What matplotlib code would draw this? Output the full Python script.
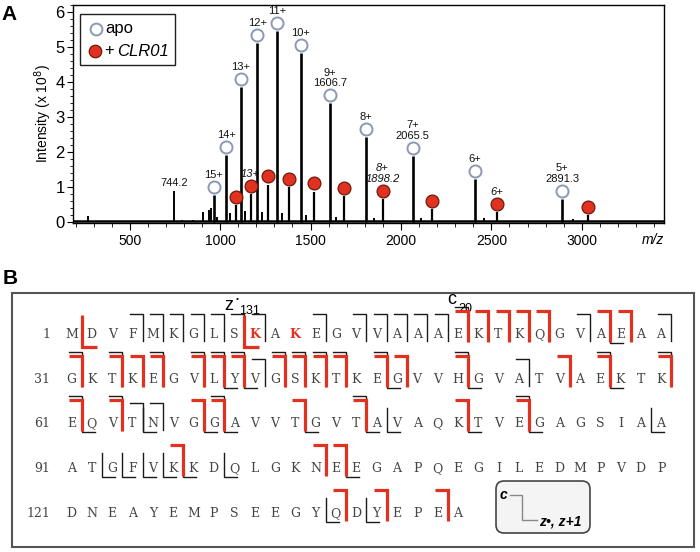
import matplotlib
matplotlib.use("Agg")
import matplotlib.pyplot as plt
from matplotlib.patches import Rectangle, FancyBboxPatch
from matplotlib.ticker import MultipleLocator

plt.rcParams['font.family'] = ['Liberation Sans', 'DejaVu Sans']

# ---------------- Panel A data ----------------
apo_charges = ['15+', '14+', '13+', '12+', '11+', '10+', '9+\n1606.7', '8+', '7+\n2065.5', '6+', '5+\n2891.3']
apo_mz = [964.4, 1033.3, 1112.6, 1205.3, 1314.8, 1446.1, 1606.7, 1807.4, 2065.5, 2409.6, 2891.3]
apo_int = [0.77, 1.90, 3.85, 5.12, 5.46, 4.83, 3.40, 2.42, 1.89, 1.24, 0.66]

bound_charges = ['', '13+', '', '', '', '', '8+\n1898.2', '', '6+', '']
bound_mz = [1085.1, 1168.5, 1265.8, 1380.8, 1518.8, 1687.4, 1898.2, 2169.2, 2530.6, 3036.5]
bound_int = [0.49, 0.79, 1.07, 1.00, 0.87, 0.73, 0.66, 0.37, 0.28, 0.20]

minor_mz = [270, 744.2, 790, 850, 905, 940, 952, 985, 1055, 1135, 1230, 1340, 1475, 1640,
            1850, 2110, 2460, 2950]
minor_int = [0.18, 0.88, 0.06, 0.07, 0.28, 0.35, 0.40, 0.15, 0.25, 0.30, 0.28, 0.25, 0.20, 0.15,
             0.12, 0.10, 0.10, 0.08]

# ---------------- Panel B data ----------------
sequence = ("MDVFMKGLSKAKEGVVAAAEKTKQGVAEAA"
            "GKTKEGVLYVGSKTKEGVVHGVATVAEKTK"
            "EQVTNVGGAVVTGVTAVAQKTVEGAGSIAA"
            "ATGFVKKDQLGKNEEGAPQEGILEDMPVDP"
            "DNEAYEMPSEEGYQDYEPEA")
row_starts = [1, 31, 61, 91, 121]
red_residues = [10, 12]
c_black = [4, 5, 6, 7, 8, 9, 10, 13, 15, 16, 17, 18, 19, 20, 26, 30, 31, 33, 35, 37, 38, 39, 40,
           41, 42, 43, 44, 46, 50, 53, 57, 60, 61, 63, 64, 65, 68, 75, 83]
c_red = [20, 21, 22, 23, 24, 27, 28, 31, 33, 34, 35, 37, 38, 39, 41, 42, 43, 44, 46, 47, 50, 55,
         57, 60, 61, 63, 67, 68, 72, 75, 80, 83, 96, 103, 104, 134, 136, 139]
z_black = [27, 38, 39, 46, 50, 57, 61, 64, 67, 68, 72, 75, 76, 80, 83, 89, 92, 93, 94, 95, 96,
           98, 104, 133, 135]
z_red = [1, 9]

RED = '#e0321f'
BLK = '#1a1a1a'

fig = plt.figure(figsize=(7.0, 5.52), dpi=100)

# ---------------- Panel A ----------------
W, H = 700.0, 552.0
axA = fig.add_axes([73 / W, 1 - 223 / H, 591 / W, 218 / H])
axA.set_xlim(186, 3455)
axA.set_ylim(-0.03, 6.2)

axA.axhline(0.03, color='black', lw=1.8, zorder=2)
axA.vlines(minor_mz, 0, minor_int, color='black', lw=1.4, zorder=2)
axA.vlines(apo_mz, 0, apo_int, color='black', lw=1.9, zorder=2)
axA.vlines(bound_mz, 0, bound_int, color='black', lw=1.6, zorder=2)

off = 0.23
axA.scatter(apo_mz, [v + off for v in apo_int], s=75, facecolor='white',
            edgecolor='#8b9ab3', linewidth=1.4, zorder=4)
axA.scatter(bound_mz, [v + off for v in bound_int], s=85, facecolor=RED,
            edgecolor='#6b1a10', linewidth=0.9, zorder=4)

for mz, h, lab in zip(apo_mz, apo_int, apo_charges):
    axA.annotate(lab, (mz, h + off), xytext=(0, 5), textcoords='offset points',
                 ha='center', va='bottom', fontsize=8, linespacing=1.05, color='#111')
for mz, h, lab in zip(bound_mz, bound_int, bound_charges):
    if lab:
        axA.annotate(lab, (mz, h + off), xytext=(0, 5), textcoords='offset points',
                     ha='center', va='bottom', fontsize=8, style='italic',
                     linespacing=1.05, color='#111')
axA.annotate('744.2', (744.2, 0.88), xytext=(0, 2), textcoords='offset points',
             ha='center', va='bottom', fontsize=8, color='#111')

axA.set_xticks([500, 1000, 1500, 2000, 2500, 3000])
axA.xaxis.set_minor_locator(MultipleLocator(100))
axA.yaxis.set_major_locator(MultipleLocator(1))
axA.yaxis.set_minor_locator(MultipleLocator(0.2))
axA.tick_params(axis='x', which='major', direction='out', length=5, labelsize=10, pad=3)
axA.tick_params(axis='x', which='minor', direction='out', length=3)
axA.tick_params(axis='y', which='major', direction='out', length=4, labelsize=12, pad=2)
axA.tick_params(axis='y', which='minor', direction='out', length=2)
axA.set_ylabel('Intensity (x 10$^8$)', fontsize=10, labelpad=1)
for sp in axA.spines.values():
    sp.set_linewidth(1.0)

# ---------------- overlay (pixel coordinates) ----------------
ov = fig.add_axes([0, 0, 1, 1], zorder=5)
ov.set_xlim(0, W)
ov.set_ylim(H, 0)
ov.axis('off')
ov.patch.set_alpha(0)

ov.text(9, 14, 'A', fontsize=15, fontweight='bold', ha='center', va='center')
ov.text(10, 278, 'B', fontsize=15, fontweight='bold', ha='center', va='center')
ov.text(653, 240, 'm/z', fontsize=10, style='italic', ha='center', va='center')

# legend of panel A
ov.add_patch(Rectangle((80, 14), 95, 51, fc='white', ec='#222', lw=1.0))
ov.plot([96], [29], 'o', ms=8.5, mfc='white', mec='#8b9ab3', mew=1.4)
ov.plot([95], [51], 'o', ms=9, mfc=RED, mec='#6b1a10', mew=0.9)
ov.text(105, 29, 'apo', fontsize=12, va='center', ha='left')
ov.text(104, 51, '+', fontsize=12, va='center', ha='left')
ov.text(117, 51, 'CLR01', fontsize=12, va='center', ha='left', style='italic')

# ---------------- Panel B ----------------
ov.add_patch(Rectangle((12, 293), 682, 254, fc='white', ec='#555', lw=1.5, zorder=0))

X0, S = 71.5, 20.33
ROW_Y = [333, 378, 422, 467, 512]
serif = ['DejaVu Serif']

for r, start in enumerate(row_starts):
    ov.text(50, ROW_Y[r] + 5, str(start), fontsize=9, family=serif, color='#444',
            ha='right', va='baseline')
for i, aa in enumerate(sequence):
    resnum = i + 1
    r, c = i // 30, i % 30
    red = resnum in red_residues
    ov.text(X0 + c * S, ROW_Y[r] + 5, aa, fontsize=9, family=serif,
            color=RED if red else '#444', fontweight='bold' if red else 'normal',
            ha='center', va='baseline')


def gap_xy(g):
    i = g - 1
    return X0 + (i % 30) * S + S / 2, ROW_Y[i // 30]


HL = 13
for g in c_black:
    x, y = gap_xy(g)
    top = y - (26 if g in c_red else 19)
    ov.plot([x - HL, x, x], [top, top, y + 8], color=BLK, lw=1.0,
            solid_joinstyle='miter', zorder=3)
for g in z_black:
    x, y = gap_xy(g)
    ov.plot([x, x, x + HL], [y - 14, y + 10, y + 10], color=BLK, lw=1.0,
            solid_joinstyle='miter', zorder=3)
for g in c_red:
    x, y = gap_xy(g)
    ov.plot([x - HL, x, x], [y - 22, y - 22, y + 9], color=RED, lw=2.3,
            solid_joinstyle='miter', solid_capstyle='butt', zorder=4)
for g in z_red:
    x, y = gap_xy(g)
    ov.plot([x, x, x + HL + 2], [y - 18, y + 14, y + 14], color=RED, lw=2.3,
            solid_joinstyle='miter', solid_capstyle='butt', zorder=4)

# ion labels
ov.text(229, 305, 'z', fontsize=13, ha='center', va='center')
ov.text(237, 300, '•', fontsize=6, ha='center', va='center')
ov.text(249, 311, '131', fontsize=9, ha='center', va='center')
ov.text(452, 300, 'c', fontsize=13, ha='center', va='center')
ov.text(465, 309, '20', fontsize=9, ha='center', va='center')

# legend box of panel B
ov.add_patch(FancyBboxPatch((496, 481), 94, 52, boxstyle='round,pad=0,rounding_size=8',
                            fc='#f4f4f4', ec='#444', lw=1.2, zorder=3))
ov.plot([510, 522, 522, 537], [495, 495, 520, 520], color='#888', lw=1.0, zorder=4)
ov.text(503, 495, 'c', fontsize=10, style='italic', fontweight='bold', ha='center',
        va='center', zorder=5)
ov.text(539, 521, 'z•, z+1', fontsize=10, style='italic', fontweight='bold', ha='left',
        va='center', zorder=5)

fig.savefig('out.png', dpi=100)
